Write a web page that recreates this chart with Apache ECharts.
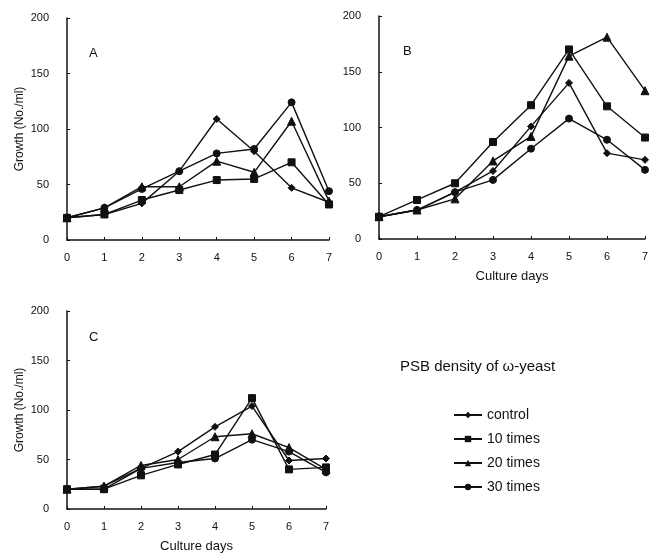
<!DOCTYPE html>
<html>
<head>
<meta charset="utf-8">
<script src="https://cdn.jsdelivr.net/npm/echarts@6/dist/echarts.min.js"></script>
<style>
  html, body { margin: 0; padding: 0; background: #fff; }
  #chart { width: 664px; height: 556px; }
</style>
</head>
<body>
<div id="chart"></div>
<script>
var days = [0, 1, 2, 3, 4, 5, 6, 7];
var yTicks = [0, 50, 100, 150, 200];
var seriesNames = ['control', '10 times', '20 times', '30 times'];
var symbols = ['diamond', 'rect', 'triangle', 'circle'];
var symbolSizes = [7, 7, 8, 7];

// panel A
var aControl = [20, 23, 33, 62, 109, 80, 47, 34];
var a10 = [20, 23, 36, 45, 54, 55, 70, 32];
var a20 = [20, 29, 48, 48, 71, 61, 107, 35];
var a30 = [20, 29, 46, 62, 78, 82, 124, 44];

// panel B
var bControl = [20, 26, 42, 61, 101, 140, 77, 71];
var b10 = [20, 35, 50, 87, 120, 170, 119, 91];
var b20 = [20, 26, 36, 70, 92, 164, 181, 133];
var b30 = [20, 26, 42, 53, 81, 108, 89, 62];

// panel C
var cControl = [20, 23, 41, 58, 83, 104, 49, 51];
var c10 = [20, 20, 34, 45, 55, 112, 40, 42];
var c20 = [20, 23, 44, 50, 73, 76, 62, 40];
var c30 = [20, 20, 41, 47, 51, 70, 58, 37];

var panels = [
  [aControl, a10, a20, a30],
  [bControl, b10, b20, b30],
  [cControl, c10, c20, c30]
];

var font = 'Liberation Sans, Arial, sans-serif';
var chart = echarts.init(document.getElementById('chart'));

function xAxis(gridIndex, showName) {
  return {
    gridIndex: gridIndex,
    type: 'value',
    min: 0, max: 7, interval: 1,
    name: showName ? 'Culture days' : '',
    nameLocation: 'middle',
    nameGap: 31,
    nameTextStyle: { color: '#111', fontSize: 13, fontFamily: font },
    axisLine: { lineStyle: { color: '#111', width: 1.5 } },
    axisTick: { inside: true, length: 3, lineStyle: { color: '#111' } },
    axisLabel: { color: '#111', fontSize: 11, fontFamily: font, margin: 12,
      formatter: function (v) { return days.indexOf(v) >= 0 ? String(v) : ''; } },
    splitLine: { show: false }
  };
}

function yAxis(gridIndex, showName) {
  return {
    gridIndex: gridIndex,
    type: 'value',
    min: yTicks[0], max: yTicks[yTicks.length - 1], interval: 50,
    name: showName ? 'Growth (No./ml)' : '',
    nameLocation: 'middle',
    nameRotate: 90,
    nameGap: 41,
    nameTextStyle: { color: '#111', fontSize: 12, fontFamily: font },
    axisLine: { show: true, lineStyle: { color: '#111', width: 1.5 } },
    axisTick: { show: true, inside: true, length: 3, lineStyle: { color: '#111' } },
    axisLabel: { color: '#111', fontSize: 11, fontFamily: font, margin: 18 },
    splitLine: { show: false }
  };
}

var series = [];
panels.forEach(function (panel, p) {
  panel.forEach(function (vals, s) {
    series.push({
      name: seriesNames[s],
      type: 'line',
      xAxisIndex: p,
      yAxisIndex: p,
      symbol: symbols[s],
      symbolSize: symbolSizes[s],
      showAllSymbol: true,
      lineStyle: { color: '#111', width: 1.4 },
      itemStyle: { color: '#111', borderColor: '#111' },
      emphasis: { disabled: true },
      animation: false,
      data: days.map(function (d, i) { return [d, vals[i]]; })
    });
  });
});

var option = {
  animation: false,
  textStyle: { fontFamily: font },
  title: [
    { text: 'A', left: 84, top: 42, textStyle: { fontSize: 13, fontWeight: 'normal', color: '#111' } },
    { text: 'B', left: 398, top: 40, textStyle: { fontSize: 13, fontWeight: 'normal', color: '#111' } },
    { text: 'C', left: 84, top: 326, textStyle: { fontSize: 13, fontWeight: 'normal', color: '#111' } },
    { text: 'PSB density of ω-yeast', left: 395, top: 354,
      textStyle: { fontSize: 15, fontWeight: 'normal', color: '#111', fontFamily: font } }
  ],
  legend: {
    data: seriesNames,
    orient: 'vertical',
    left: 448,
    top: 403,
    itemWidth: 28,
    itemHeight: 8,
    itemGap: 10,
    selectedMode: false,
    textStyle: { color: '#111', fontSize: 14, fontFamily: font }
  },
  grid: [
    { left: 67, top: 18, width: 262, height: 222 },
    { left: 379, top: 16, width: 266, height: 223 },
    { left: 67, top: 311, width: 259, height: 198 }
  ],
  xAxis: [xAxis(0, false), xAxis(1, true), xAxis(2, true)],
  yAxis: [yAxis(0, true), yAxis(1, false), yAxis(2, true)],
  series: series
};

chart.setOption(option);
</script>
</body>
</html>
